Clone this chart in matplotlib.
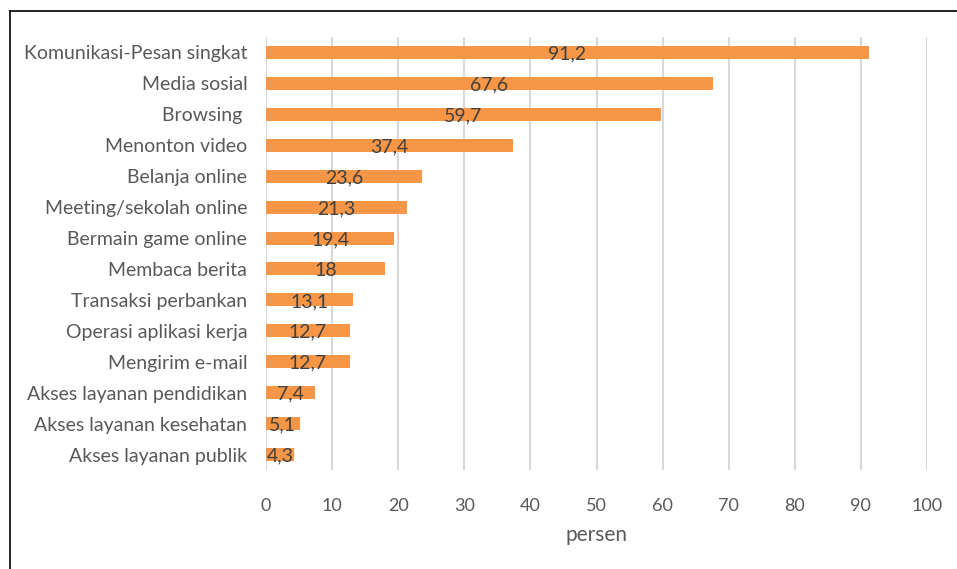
import matplotlib.pyplot as plt
from matplotlib.lines import Line2D

plt.rcParams['font.family'] = ['Lato', 'DejaVu Sans']

kategori = ['Komunikasi-Pesan singkat', 'Media sosial', 'Browsing ', 'Menonton video',
            'Belanja online', 'Meeting/sekolah online', 'Bermain game online',
            'Membaca berita', 'Transaksi perbankan', 'Operasi aplikasi kerja',
            'Mengirim e-mail', 'Akses layanan pendidikan', 'Akses layanan kesehatan',
            'Akses layanan publik']
persen = [91.2, 67.6, 59.7, 37.4, 23.6, 21.3, 19.4, 18, 13.1, 12.7, 12.7, 7.4, 5.1, 4.3]
xticks = list(range(0, 101, 10))

fig = plt.figure(figsize=(9.57, 5.69), dpi=100)
ax = fig.add_axes([266 / 957, 1 - 470 / 569, (927 - 266) / 957, (470 - 37) / 569])

pos = list(range(len(kategori)))
ax.barh(pos, persen, height=0.42, color='#F79646', zorder=2)
ax.set_ylim(len(kategori) - 0.5, -0.5)
ax.set_xlim(0, 100)

for y, v in zip(pos, persen):
    lbl = f'{v:g}'.replace('.', ',')
    ax.text(v / 2, y + 0.05, lbl, ha='center', va='center', fontsize=14,
            color='#404040', zorder=3)

ax.set_yticks(pos)
ax.set_yticklabels(kategori, fontsize=14, color='#595959')
ax.set_xticks(xticks)
ax.set_xticklabels([str(t) for t in xticks], fontsize=13, color='#595959')
ax.tick_params(length=0)
ax.tick_params(axis='y', pad=13.5)
ax.tick_params(axis='x', pad=20)
ax.grid(axis='x', color='#D9D9D9', linewidth=1.5, zorder=0)
for s in ax.spines.values():
    s.set_visible(False)
ax.axvline(0, color='#D9D9D9', linewidth=1.5, zorder=1)
ax.set_xlabel('persen', fontsize=15, color='#595959', labelpad=8)

# outer frame, top and left edges
fig.add_artist(Line2D([9.5 / 957, 9.5 / 957], [0, 1 - 11 / 569], color='black', lw=1.2))
fig.add_artist(Line2D([9.5 / 957, 1], [1 - 11 / 569, 1 - 11 / 569], color='black', lw=1.2))

fig.savefig('out.png', dpi=100, facecolor='white')
